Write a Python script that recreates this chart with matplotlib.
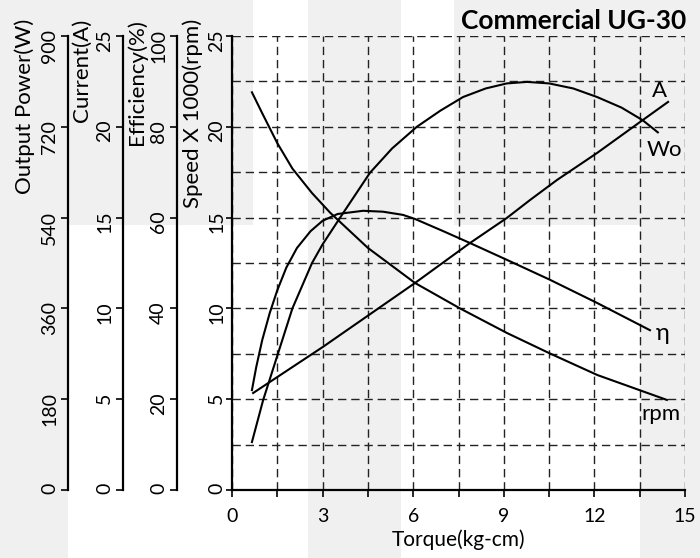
import matplotlib
matplotlib.use("Agg")
import matplotlib.pyplot as plt
from matplotlib.patches import Rectangle

plt.rcParams['font.family'] = ['Lato', 'DejaVu Sans']

# ---- data ----
title = "Commercial UG-30"
x_label = "Torque(kg-cm)"
x_ticks = [0, 3, 6, 9, 12, 15]

rpm_torque = [0.66, 1.0, 1.5, 2.0, 2.65, 3.25, 4.5, 6.06, 7.55, 9.1, 10.5, 12.1, 14.4]
rpm_speed = [21.9, 20.75, 19.1, 17.7, 16.35, 15.27, 13.33, 11.4, 10.0, 8.65, 7.54, 6.33, 4.96]

eff_torque = [0.66, 0.8, 1.0, 1.25, 1.5, 1.8, 2.15, 2.6, 3.0, 3.5, 4.34, 5.0, 5.66, 6.06, 7.0,
              7.88, 9.1, 10.53, 12.09, 13.84]
eff_values = [22.0, 27.0, 33.0, 39.0, 44.0, 49.0, 53.3, 57.0, 59.3, 60.8, 61.5, 61.3, 60.6, 59.7,
              57.0, 54.4, 50.7, 46.3, 41.2, 35.2]

wo_torque = [0.66, 1.03, 1.52, 2.0, 2.65, 3.0, 3.68, 4.57, 5.3, 6.12, 6.9, 7.65, 8.4, 9.1, 9.77,
             10.5, 11.3, 12.09, 12.9, 13.6, 14.1]
wo_values = [95, 178, 270, 360, 450, 487, 549, 629, 677, 720, 752, 779, 796, 806, 809,
             806, 796, 779, 758, 733, 709]

cur_torque = [0.7, 3.01, 6.06, 7.88, 9.1, 9.87, 10.76, 12.09, 13.6, 14.44]
cur_values = [5.34, 7.88, 11.4, 13.6, 14.98, 15.97, 17.07, 18.56, 20.37, 21.37]

speed_ticks = [0, 5, 10, 15, 20, 25]
eff_ticks = [0, 20, 40, 60, 80, 100]
cur_ticks = [0, 5, 10, 15, 20, 25]
pow_ticks = [0, 180, 360, 540, 720, 900]

W, H = 700, 558
fig = plt.figure(figsize=(W / 100, H / 100), dpi=100)
fig.patch.set_facecolor('white')

GRAY = '#f0f0f0'
for (x0, y0, x1, y1) in [(0, 0, 68, 558), (0, 0, 253, 225), (308, 0, 401, 558),
                         (454, 0, 700, 225), (640, 0, 700, 558)]:
    fig.patches.append(Rectangle((x0 / W, 1 - y1 / H), (x1 - x0) / W, (y1 - y0) / H,
                                 transform=fig.transFigure, facecolor=GRAY,
                                 edgecolor='none', zorder=-10))

left, right, top, bottom = 232, 685, 36, 490
rect = [left / W, 1 - bottom / H, (right - left) / W, (bottom - top) / H]

FS = 14
ax = fig.add_axes(rect)
ax.set_facecolor('none')
ax.set_xlim(0, 15)
ax.set_ylim(0, 25)
ax.set_xticks(x_ticks)
ax.set_xticks([1.5, 4.5, 7.5, 10.5, 13.5], minor=True)
ax.set_yticks(speed_ticks)
ax.set_yticks([2.5, 7.5, 12.5, 17.5, 22.5], minor=True)
ax.grid(True, which='both', color='#222222', linestyle=(0, (6, 3.5)), linewidth=1.0)
ax.set_axisbelow(True)
for s in ['top', 'right']:
    ax.spines[s].set_visible(False)
for s in ['left', 'bottom']:
    ax.spines[s].set_linewidth(1.6)
ax.tick_params(axis='x', which='both', length=5, width=1.2, direction='out', labelsize=FS, pad=8)
ax.tick_params(axis='y', which='major', length=4, width=1.2, labelsize=FS, labelrotation=90, pad=1)
ax.tick_params(axis='y', which='minor', length=0)
ax.set_xlabel(x_label, fontsize=FS + 1, labelpad=3)
ax.plot(rpm_torque, rpm_speed, color='black', lw=1.5, zorder=5)
ax.plot(cur_torque, cur_values, color='black', lw=1.5, zorder=5)


def extra_axis(offset_px, lim, ticks):
    a = fig.add_axes(rect)
    a.set_facecolor('none')
    a.set_xlim(0, 15)
    a.set_ylim(*lim)
    a.set_yticks(ticks)
    a.set_xticks([])
    for s in ['top', 'right', 'bottom']:
        a.spines[s].set_visible(False)
    a.spines['left'].set_position(('axes', -offset_px / (right - left)))
    a.spines['left'].set_linewidth(1.6)
    a.tick_params(axis='y', length=5, width=1.2, labelsize=FS, labelrotation=90, pad=2)
    return a


ax_eff = extra_axis(55, (0, 100), eff_ticks)
ax_cur = extra_axis(109, (0, 25), cur_ticks)
ax_pow = extra_axis(164, (0, 900), pow_ticks)

ax_eff.plot(eff_torque, eff_values, color='black', lw=1.5)
ax_pow.plot(wo_torque, wo_values, color='black', lw=1.5)

# curve labels
LFS = 16
ax.text(14.17, 21.95, "A", fontsize=LFS, ha='center', va='center')
ax.text(14.33, 18.75, "Wo", fontsize=LFS, ha='center', va='center')
ax.text(14.27, 8.6, "η", fontsize=LFS + 1, ha='center', va='center')
ax.text(14.2, 4.2, "rpm", fontsize=LFS, ha='center', va='center')

# axis titles
for xp, txt in [(25, "Output Power(W)"), (82, "Current(A)"),
                (137, "Efficiency(%)"), (193, "Speed X 1000(rpm)")]:
    fig.text(xp / W, 1 - 19 / H, txt, rotation=90, ha='center', va='top', fontsize=16)

fig.text(686 / W, 1 - 21 / H, title, ha='right', va='center', fontsize=19, fontweight='bold')

fig.savefig("out.png", dpi=100)
